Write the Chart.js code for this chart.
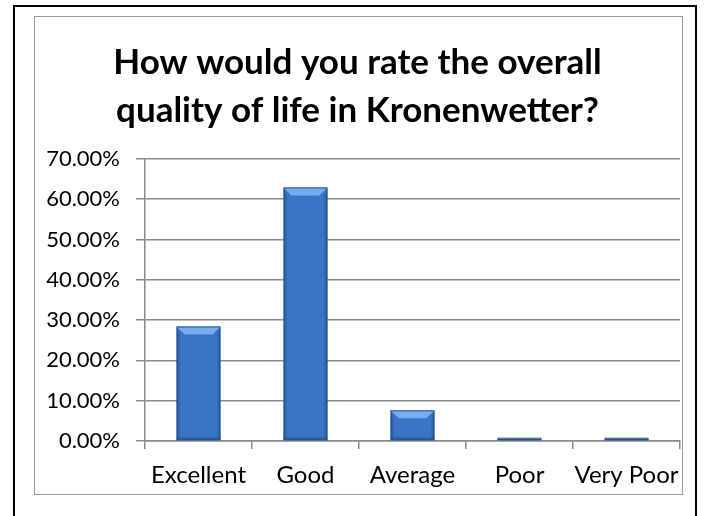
<!DOCTYPE html>
<html>
<head>
<meta charset="utf-8">
<script src="https://cdn.jsdelivr.net/npm/chart.js@4"></script>
<style>
  html, body { margin: 0; padding: 0; background: #fff; }
  body { width: 705px; height: 516px; position: relative; overflow: hidden; }
  #outer { position: absolute; left: 13px; top: 5px; width: 684px; height: 540px;
           border: 2px solid #000; box-sizing: border-box; }
  #frame { position: absolute; left: 34px; top: 16px; width: 649px; height: 479px;
           border: 1px solid #9a9a9a; box-sizing: border-box; background: #fff; }
  #wrap { position: absolute; left: 0; top: 0; width: 647px; height: 477px; }
</style>
</head>
<body>
<div id="outer"></div>
<div id="frame"><div id="wrap"><canvas id="grafico"></canvas></div></div>
<script>
// dados
const categorias = ["Excellent", "Good", "Average", "Poor", "Very Poor"];
const valores = [0.284, 0.629, 0.076, 0.006, 0.006];
const titulo = ["How would you rate the overall", "quality of life in Kronenwetter?"];
const eixoY = { min: 0, max: 0.7, passo: 0.1 };

const cinza = "#8a8a8a";

// preenchimento do corpo da barra
function corBarra(ctx) {
  const chart = ctx.chart;
  const el = chart.getDatasetMeta(0).data[ctx.dataIndex];
  if (!el || !el.width) return "#3b74c4";
  const x0 = el.x - el.width / 2, x1 = el.x + el.width / 2;
  const g = chart.ctx.createLinearGradient(x0, 0, x1, 0);
  g.addColorStop(0, "#2c5ca3");
  g.addColorStop(0.15, "#3b74c4");
  g.addColorStop(0.5, "#4586d6");
  g.addColorStop(0.85, "#3b74c4");
  g.addColorStop(1, "#2b5898");
  return g;
}

/* chanfro das barras */
const chanfro = {
  id: "chanfro",
  afterDatasetsDraw(chart) {
    const c = chart.ctx;
    chart.getDatasetMeta(0).data.forEach(b => {
      const l = b.x - b.width / 2, r = b.x + b.width / 2;
      const t = b.y, base = b.base, h = base - t;
      const d = Math.min(8, h / 2, b.width / 4);
      if (h < 1) return;
      c.save();
      // topo
      c.fillStyle = "#74aef0";
      c.beginPath();
      c.moveTo(l, t); c.lineTo(r, t); c.lineTo(r - d, t + d); c.lineTo(l + d, t + d);
      c.closePath(); c.fill();
      // lados
      c.fillStyle = "rgba(30,70,130,0.35)";
      c.beginPath();
      c.moveTo(l, t); c.lineTo(l + 3, t + d); c.lineTo(l + 3, base - 2); c.lineTo(l, base);
      c.closePath(); c.fill();
      c.beginPath();
      c.moveTo(r, t); c.lineTo(r - 3, t + d); c.lineTo(r - 3, base - 2); c.lineTo(r, base);
      c.closePath(); c.fill();
      // base
      c.fillStyle = "rgba(25,55,110,0.35)";
      c.fillRect(l, base - 3, r - l, 3);
      // contorno
      c.strokeStyle = "rgba(35,75,140,0.8)";
      c.lineWidth = 1;
      c.strokeRect(l + 0.5, t + 0.5, r - l - 1, h - 1);
      c.restore();
    });
  }
};

new Chart(document.getElementById("grafico"), {
  type: "bar",
  data: {
    labels: categorias,
    datasets: [{
      data: valores,
      backgroundColor: corBarra,
      borderWidth: 0,
      barPercentage: 0.41,
      categoryPercentage: 1
    }]
  },
  options: {
    responsive: true,
    maintainAspectRatio: false,
    animation: false,
    layout: { padding: { left: 0, right: 2, top: 4, bottom: 0 } },
    plugins: {
      legend: { display: false },
      tooltip: { enabled: false },
      title: {
        display: true,
        text: titulo,
        color: "#000",
        font: { family: "Lato", size: 35, weight: "bold", lineHeight: 1.37 },
        padding: { top: 18, bottom: 24 }
      }
    },
    scales: {
      x: {
        afterFit: s => { s.height = 53; },
        grid: { drawOnChartArea: false, drawTicks: true, tickLength: 8, color: cinza, lineWidth: 1.5 },
        border: { color: cinza, width: 1.5 },
        ticks: {
          color: "#000",
          font: { family: "Lato", size: 24, lineHeight: 2.2 },
          padding: 0,
          maxRotation: 0,
          autoSkip: false
        }
      },
      y: {
        min: eixoY.min,
        max: eixoY.max,
        afterFit: s => { s.width = 110; },
        grid: { color: cinza, lineWidth: 1.5, tickLength: 9 },
        border: { color: cinza, width: 1.5 },
        ticks: {
          stepSize: eixoY.passo,
          color: "#000",
          font: { family: "Lato", size: 22 },
          padding: 16,
          callback: v => (v * 100).toFixed(2) + "%"
        }
      }
    }
  },
  plugins: [chanfro]
});
</script>
</body>
</html>
